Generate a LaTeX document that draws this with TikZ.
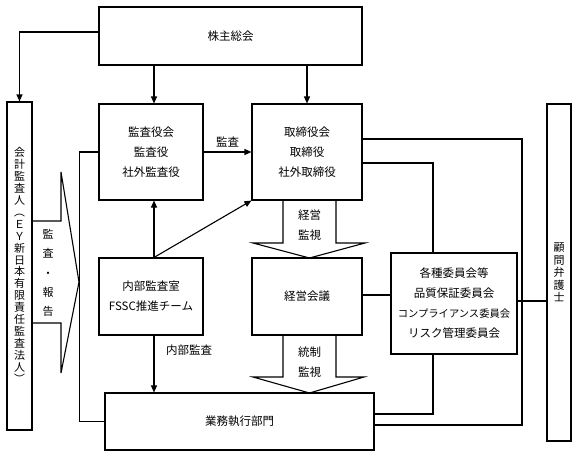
\documentclass[tikz,border=0pt]{standalone}
\usepackage{fontspec}
\newfontfamily\jp{Noto Sans CJK JP}
\usetikzlibrary{arrows.meta}
\tikzset{
	box/.style={draw, line width=1.1pt, align=center, inner sep=0pt, font=\jp\fontsize{11.5}{20}\selectfont},
	link/.style={line width=1.1pt},
	arr/.style={line width=1.1pt, -{Triangle[length=7pt,width=6pt]}},
	lbl/.style={font=\jp\fontsize{11.5}{20}\selectfont, align=center, inner sep=0pt}
}

\begin{document}
\begin{tikzpicture}[x=1pt,y=-1pt]
	\useasboundingbox (0,0) rectangle (578,458);

	% boxes
	\node[box, minimum width=263pt, minimum height=58pt] (soukai) at (230.5,36) {株主総会};
	\node[box, minimum width=104pt, minimum height=96pt] (kansa) at (151,152) {監査役会\\監査役\\社外監査役};
	\node[box, minimum width=110pt, minimum height=96pt] (torishimari) at (307,152) {取締役会\\取締役\\社外取締役};
	\node[box, minimum width=104pt, minimum height=77pt] (naibu) at (151,296.5) {内部監査室\\FSSC推進チーム};
	\node[box, minimum width=110pt, minimum height=77pt] (keiei) at (307,296.5) {経営会議};
	\node[box, minimum width=126pt, minimum height=101pt] (iinkai) at (454,303.5) {各種委員会等\\品質保証委員会\\{\fontsize{10.3}{19}\selectfont コンプライアンス委員会}\\リスク管理委員会};
	\node[box, minimum width=269pt, minimum height=57pt] (gyomu) at (239.5,421.5) {業務執行部門};
	\node[box, minimum width=25pt, minimum height=328pt, font=\jp\fontsize{11}{11.9}\selectfont] (kaikei) at (19.5,266)
		{会\\計\\監\\査\\人\\\rotatebox[origin=c]{-90}{（}\\Ｅ\\Ｙ\\新\\日\\本\\有\\限\\責\\任\\監\\査\\法\\人\\\rotatebox[origin=c]{-90}{）}};
	\node[box, minimum width=24pt, minimum height=337pt, font=\jp\fontsize{11}{12.5}\selectfont] (komon) at (559,272.5)
		{顧\\問\\弁\\護\\士};

	% audit callout
	\draw[link] (kaikei.east |- 0,221) -- (61,221) -- (61,172) -- (79,282) -- (61,373) -- (61,323) -- (kaikei.east |- 0,323);
	\node[lbl, font=\jp\fontsize{11}{19.2}\selectfont] (houkoku) at (48,273) {監\\査\\・\\報\\告};

	% arrows from the top
	\draw[arr] ([yshift=4pt]soukai.west) -| (kaikei.north);
	\draw[arr] (soukai.south -| 154,0) -- ([xshift=3pt]kansa.north);
	\draw[arr] (soukai.south -| torishimari.north) -- (torishimari.north);
	\path[arr] (kansa.east) edge node[lbl, above=4pt] (kansalbl) {監査} (torishimari.west);

	% internal audit
	\draw[arr] ([xshift=3pt]naibu.north) -- ([xshift=3pt]kansa.south);
	\draw[arr] ([xshift=3pt]naibu.north) -- (torishimari.south west);
	\draw[arr] ([xshift=3pt]naibu.south) -- ([xshift=3pt]naibu.south |- gyomu.north);
	\node[lbl] (naibulbl) at (189,350) {内部監査};

	% left line
	\coordinate (lbend) at (79.5,152);
	\draw[link] (kansa.west) -- (lbend) |- (gyomu.west);

	% big arrows
	\draw[link] (283,200) -- (283,243) -- (253,243) -- (309.5,258) -- (365,243) -- (336,243) -- (336,200);
	\node[lbl] (kanshi1) at (309.5,225) {経営\\監視};
	\draw[link] (283,335) -- (283,377) -- (253,377) -- (309.5,393) -- (364,377) -- (336,377) -- (336,335);
	\node[lbl] (kanshi2) at (309.5,362.5) {統制\\監視};

	% right lines
	\coordinate (r1) at (522,0);
	\coordinate (r2) at (433,0);
	\draw[link] ([yshift=13pt]torishimari.east) -| ([yshift=-3.5pt]gyomu.east -| r1) -- ([yshift=-3.5pt]gyomu.east);
	\draw[link] ([yshift=-11pt]torishimari.east) -| (r2 |- iinkai.north);
	\draw[link] (r2 |- iinkai.south) |- ([yshift=7.5pt]gyomu.east);
	\draw[link] ([yshift=1.5pt]keiei.east) -- ([yshift=1.5pt]keiei.east -| iinkai.west);
	\draw[link] ([yshift=2.5pt]iinkai.east) -- ([yshift=2.5pt]iinkai.east -| komon.west);
\end{tikzpicture}
\end{document}
